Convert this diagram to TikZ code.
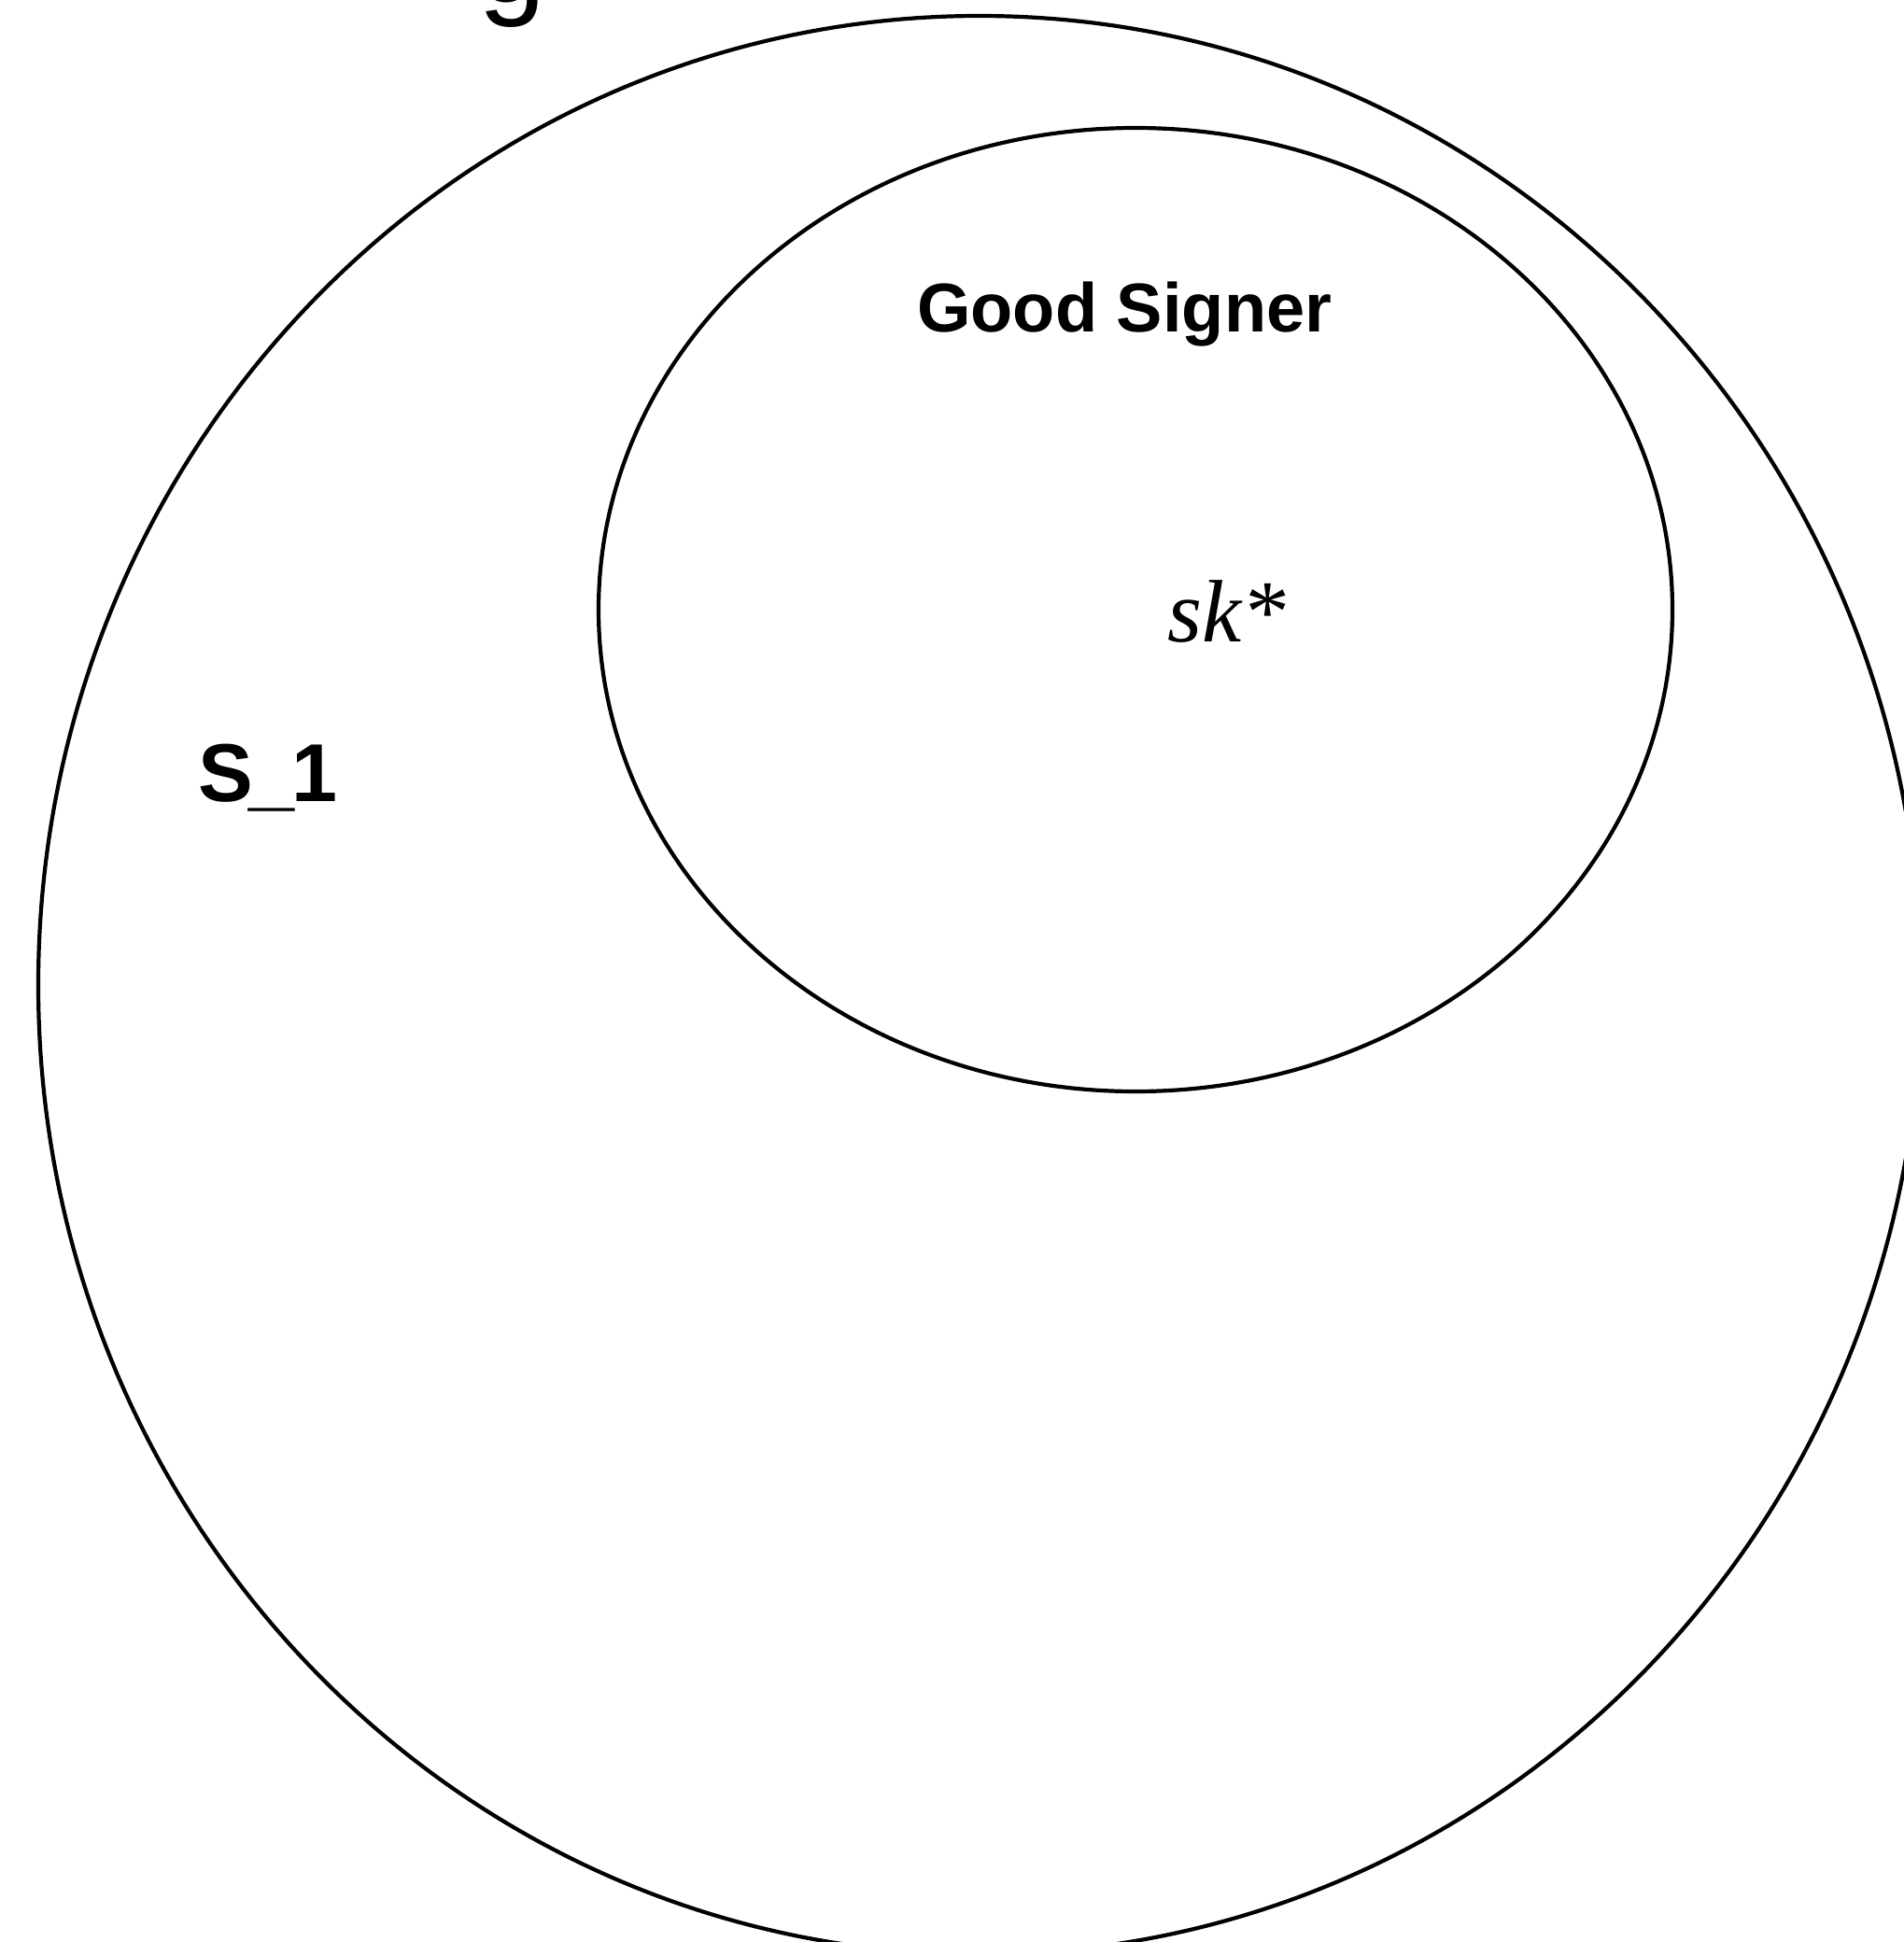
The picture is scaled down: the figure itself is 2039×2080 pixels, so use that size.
\documentclass[tikz,border=0pt]{standalone}
\usepackage{fontspec}
\setmainfont{Liberation Sans}
\newfontfamily\serifit{Liberation Serif}[ItalicFont={* Italic}]
\begin{document}
\begin{tikzpicture}[x=1pt,y=-1pt,
  setline/.style={draw=black,line width=4.2pt},
  lbl/.style={inner sep=0pt,anchor=base west,font=\bfseries}]
\useasboundingbox (0,0) rectangle (2039,2080);
\clip (0,0) rectangle (2039,2080);
\draw[setline] (1049,1055) ellipse [x radius=1008, y radius=1038];
\draw[setline] (1216,653) ellipse [x radius=575, y radius=516];
\node[inner sep=0pt,anchor=base west] (title) at (512,2) {\fontsize{130}{150}\selectfont g};
\node[lbl] (good) at (982,355) {\fontsize{74}{90}\selectfont Good Signer};
\node[lbl] (s1) at (212,858) {\fontsize{88}{108}\selectfont S\kern-4pt\_\kern-3pt1};
\node[inner sep=0pt,anchor=base west] (sk) at (1250,687) {\fontsize{95}{116}\selectfont\serifit\itshape sk*};
\end{tikzpicture}
\end{document}
